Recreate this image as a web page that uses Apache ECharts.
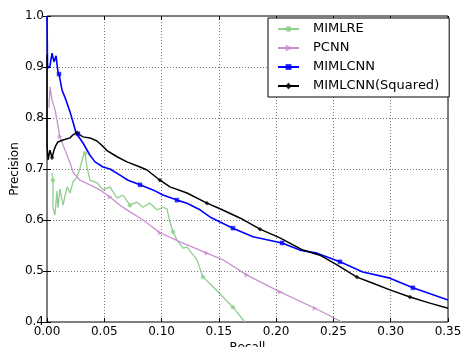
<!DOCTYPE html>
<html>
<head>
<meta charset="utf-8">
<script src="https://cdn.jsdelivr.net/npm/echarts@6/dist/echarts.min.js"></script>
<style>html,body{margin:0;padding:0;background:#fff}#c{width:470px;height:347px}</style>
</head>
<body>
<div id="c"></div>
<script>
// ---- data (recall, precision) ----
const seriesNames = ['MIMLRE', 'PCNN', 'MIMLCNN', 'MIMLCNN(Squared)'];
const xTicks = [0, 0.05, 0.10, 0.15, 0.20, 0.25, 0.30, 0.35];
const yTicks = [0.4, 0.5, 0.6, 0.7, 0.8, 0.9, 1.0];

const mimlre = [[0.0044,0.692],[0.0052,0.678],[0.0052,0.624],[0.007,0.61],[0.0087,0.657],[0.0096,0.624],[0.0113,0.661],[0.014,0.629],[0.0175,0.665],[0.0201,0.653],[0.0227,0.675],[0.0262,0.684],[0.0288,0.702],[0.0314,0.724],[0.0332,0.731],[0.0349,0.704],[0.0375,0.678],[0.0436,0.673],[0.0489,0.659],[0.055,0.665],[0.0611,0.643],[0.0663,0.649],[0.0724,0.629],[0.0785,0.635],[0.0838,0.625],[0.0899,0.633],[0.096,0.62],[0.1012,0.625],[0.1047,0.622],[0.1073,0.596],[0.11,0.577],[0.1134,0.561],[0.1187,0.545],[0.1222,0.547],[0.1309,0.522],[0.1361,0.488],[0.1449,0.469],[0.1536,0.449],[0.1623,0.429],[0.1728,0.4]];
const pcnn = [[0.0017,0.82],[0.0026,0.861],[0.0044,0.835],[0.007,0.816],[0.0087,0.796],[0.0113,0.763],[0.0157,0.737],[0.0201,0.712],[0.0227,0.694],[0.0288,0.678],[0.0375,0.669],[0.0462,0.659],[0.055,0.645],[0.0637,0.629],[0.0724,0.616],[0.0812,0.604],[0.0838,0.6],[0.0986,0.575],[0.1161,0.557],[0.1396,0.535],[0.1536,0.522],[0.1745,0.492],[0.2033,0.459],[0.2339,0.427],[0.2574,0.4]];
const mimlcnn = [[0,1.0],[0.0005,0.898],[0.0009,0.898],[0.0026,0.902],[0.0044,0.927],[0.0061,0.91],[0.0079,0.922],[0.0096,0.89],[0.0105,0.886],[0.0131,0.855],[0.0166,0.835],[0.0201,0.812],[0.0227,0.792],[0.0253,0.771],[0.027,0.769],[0.0314,0.751],[0.0375,0.727],[0.0419,0.714],[0.0489,0.704],[0.055,0.7],[0.0637,0.688],[0.0707,0.678],[0.0812,0.669],[0.0925,0.659],[0.1012,0.649],[0.1134,0.639],[0.1222,0.633],[0.1335,0.62],[0.1422,0.606],[0.151,0.596],[0.1623,0.584],[0.1798,0.567],[0.2051,0.555],[0.2208,0.541],[0.2356,0.535],[0.2557,0.518],[0.2757,0.498],[0.2993,0.486],[0.3194,0.467],[0.35,0.443]];
const mimlcnnSq = [[0,0.924],[0,0.747],[0.0009,0.718],[0.0026,0.737],[0.0044,0.722],[0.0061,0.737],[0.0079,0.747],[0.0096,0.753],[0.014,0.757],[0.0201,0.761],[0.0227,0.767],[0.0262,0.771],[0.0314,0.763],[0.0375,0.761],[0.0436,0.755],[0.048,0.746],[0.0524,0.736],[0.0611,0.724],[0.0698,0.714],[0.0812,0.704],[0.0873,0.698],[0.0986,0.678],[0.1073,0.665],[0.1222,0.653],[0.1396,0.633],[0.151,0.622],[0.1684,0.604],[0.1859,0.582],[0.2033,0.565],[0.2234,0.541],[0.2382,0.531],[0.2531,0.512],[0.2705,0.488],[0.2845,0.476],[0.2993,0.463],[0.3168,0.449],[0.3342,0.437],[0.35,0.427]];

// recall values at which a marker is drawn
const mimlreMarks = [0.0052, 0.0332, 0.0724, 0.11, 0.1361, 0.1623];
const pcnnMarks = [0.0113, 0.055, 0.0986, 0.1396, 0.1745, 0.2033, 0.2339];
const mimlcnnMarks = [0.0105, 0.027, 0.0812, 0.1134, 0.1623, 0.2051, 0.2557, 0.3194];
const mimlcnnSqMarks = [0.0044, 0.0262, 0.0986, 0.1396, 0.1859, 0.2705, 0.3168];

function build(points, marks) {
  const used = new Set();
  return points.map(p => {
    const k = marks.indexOf(p[0]);
    if (k >= 0 && !used.has(k)) { used.add(k); return { value: p }; }
    return { value: p, symbol: 'none' };
  });
}

const font = 'DejaVu Sans, sans-serif';
const colors = ['#8fcf8f', '#c98fd0', '#0000ff', '#000000'];

function lineSeries(name, pts, marks, color, symbol, width, extra) {
  return Object.assign({
    name: name, type: 'line', data: build(pts, marks),
    symbol: symbol, symbolSize: 4, showSymbol: true, showAllSymbol: true,
    lineStyle: { color: color, width: width },
    itemStyle: { color: color, borderColor: color, borderWidth: 0.5, opacity: 0.75 },
    animation: false, clip: true, z: 3
  }, extra || {});
}

const chart = echarts.init(document.getElementById('c'), null, { renderer: 'canvas' });
chart.setOption({
  backgroundColor: '#fff',
  animation: false,
  grid: { left: 47, right: 22, top: 16, bottom: 25, containLabel: false, outerBoundsMode: 'none', show: true, borderColor: '#000', borderWidth: 1, backgroundColor: 'transparent' },
  legend: {
    orient: 'vertical', left: 268, top: 18,
    data: seriesNames,
    backgroundColor: '#fff', borderColor: '#000', borderWidth: 1,
    padding: [4, 10, 4, 9], itemGap: 5, itemWidth: 21, itemHeight: 5,
    textStyle: { fontFamily: font, fontSize: 13, color: '#000', padding: [0, 0, 0, 9], lineHeight: 14 }
  },
  xAxis: [{
    type: 'value', min: 0, max: 0.35, interval: 0.05,
    name: 'Recall', nameLocation: 'middle', nameGap: 20, nameMoveOverlap: false,
    nameTextStyle: { fontFamily: font, fontSize: 12, color: '#000', verticalAlign: 'top' },
    axisLine: { show: false },
    axisTick: { inside: true, length: 4, lineStyle: { color: '#000' } },
    axisLabel: { fontFamily: font, fontSize: 12, color: '#000', margin: 4, formatter: v => v.toFixed(2) },
    splitLine: { show: true, lineStyle: { color: '#777', type: [1, 2], width: 1 } }
  }, {
    type: 'value', position: 'top', min: 0, max: 0.35, interval: 0.05,
    axisLine: { show: false }, axisLabel: { show: false }, splitLine: { show: false },
    axisTick: { inside: true, length: 4, lineStyle: { color: '#000' } }
  }],
  yAxis: [{
    type: 'value', min: 0.4, max: 1.0, interval: 0.1,
    name: 'Precision', nameLocation: 'middle', nameGap: 26, nameMoveOverlap: false,
    nameTextStyle: { fontFamily: font, fontSize: 12, color: '#000' },
    axisLine: { show: false },
    axisTick: { inside: true, length: 4, lineStyle: { color: '#000' } },
    axisLabel: { fontFamily: font, fontSize: 12, color: '#000', margin: 3, formatter: v => v.toFixed(1) },
    splitLine: { show: true, lineStyle: { color: '#777', type: [1, 2], width: 1 } }
  }, {
    type: 'value', position: 'right', min: 0.4, max: 1.0, interval: 0.1,
    axisLine: { show: false }, axisLabel: { show: false }, splitLine: { show: false },
    axisTick: { inside: true, length: 4, lineStyle: { color: '#000' } }
  }],
  series: [
    lineSeries(seriesNames[0], mimlre, mimlreMarks, colors[0], 'circle', 1.3),
    lineSeries(seriesNames[1], pcnn, pcnnMarks, colors[1], 'triangle', 1.3, { symbolRotate: -90 }),
    lineSeries(seriesNames[2], mimlcnn, mimlcnnMarks, colors[2], 'rect', 1.6),
    lineSeries(seriesNames[3], mimlcnnSq, mimlcnnSqMarks, colors[3], 'diamond', 1.5)
  ]
});
</script>
</body>
</html>
